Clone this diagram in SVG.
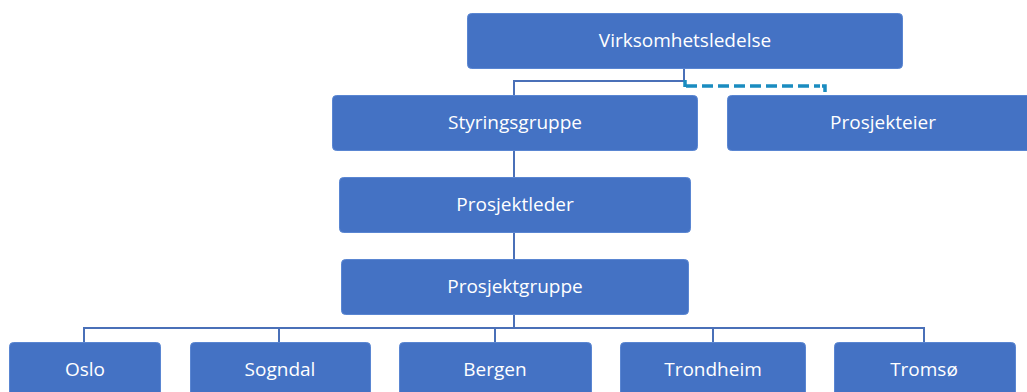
<svg xmlns="http://www.w3.org/2000/svg" width="1027" height="392" viewBox="0 0 1027 392">
<style>
.box{fill:#4472c4;stroke:#5a86d2;stroke-width:1}
.lbl{font-family:"Open Sans","Noto Sans",sans-serif;font-size:19px;fill:#ffffff;text-anchor:middle}
.ln{fill:none;stroke:#4a70b8;stroke-width:2}
.dash{fill:none;stroke:#1a8cc0;stroke-width:3.5;stroke-dasharray:11,5}
.dend{fill:none;stroke:#1a8cc0;stroke-width:3.5}
</style>
<rect width="1027" height="392" fill="#ffffff"/>
<g id="connectors">
<path class="ln" d="M684,68 V81 H514 V95"/>
<path class="dend" d="M685,80 V87"/>
<path class="dash" d="M686,86 H820"/>
<path class="dend" d="M822,86 H825 V92"/>
<path class="ln" d="M514,150 V177"/>
<path class="ln" d="M514,233 V259"/>
<path class="ln" d="M514,315 V328"/>
<path class="ln" d="M84,338 V328 H924 V338"/>
<path class="ln" d="M279,328 V342"/>
<path class="ln" d="M495,328 V342"/>
<path class="ln" d="M713,328 V342"/>
<path class="ln" d="M84,336 V342"/>
<path class="ln" d="M924,336 V342"/>
</g>
<g id="virksomhetsledelse"><rect class="box" x="467.5" y="13.5" width="435" height="55" rx="4"/><text class="lbl" x="685" y="47">Virksomhetsledelse</text></g>
<g id="styringsgruppe"><rect class="box" x="332.5" y="95.5" width="365" height="55" rx="4"/><text class="lbl" x="515" y="129">Styringsgruppe</text></g>
<g id="prosjekteier"><rect class="box" x="727.5" y="95.5" width="312" height="55" rx="4"/><text class="lbl" x="883" y="129">Prosjekteier</text></g>
<g id="prosjektleder"><rect class="box" x="339.5" y="177.5" width="351" height="55" rx="4"/><text class="lbl" x="515" y="211">Prosjektleder</text></g>
<g id="prosjektgruppe"><rect class="box" x="341.5" y="259.5" width="347" height="55" rx="4"/><text class="lbl" x="515" y="293">Prosjektgruppe</text></g>
<g id="oslo"><rect class="box" x="9.5" y="342.5" width="151" height="60" rx="4"/><text class="lbl" x="85" y="376">Oslo</text></g>
<g id="sogndal"><rect class="box" x="190.5" y="342.5" width="180" height="60" rx="4"/><text class="lbl" x="280" y="376">Sogndal</text></g>
<g id="bergen"><rect class="box" x="399.5" y="342.5" width="192" height="60" rx="4"/><text class="lbl" x="495" y="376">Bergen</text></g>
<g id="trondheim"><rect class="box" x="620.5" y="342.5" width="185" height="60" rx="4"/><text class="lbl" x="713" y="376">Trondheim</text></g>
<g id="tromso"><rect class="box" x="834.5" y="342.5" width="181" height="60" rx="4"/><text class="lbl" x="924" y="376">Tromsø</text></g>
</svg>
